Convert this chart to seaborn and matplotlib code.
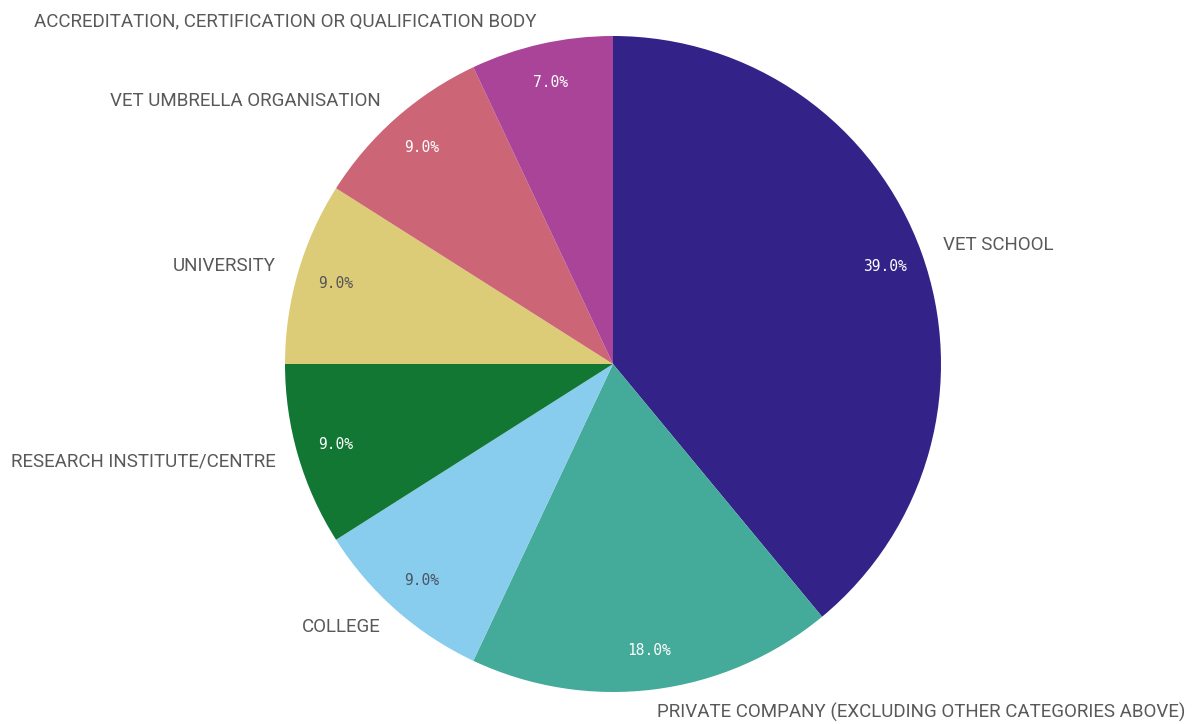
import matplotlib
matplotlib.use("Agg")
import matplotlib.pyplot as plt
import seaborn as sns

# Share of participating organisations by type (percent)
categories = [
    "VET SCHOOL",
    "PRIVATE COMPANY (EXCLUDING OTHER CATEGORIES ABOVE)",
    "COLLEGE",
    "RESEARCH INSTITUTE/CENTRE",
    "UNIVERSITY",
    "VET UMBRELLA ORGANISATION",
    "ACCREDITATION, CERTIFICATION OR QUALIFICATION BODY",
]
shares = [39.0, 18.0, 9.0, 9.0, 9.0, 9.0, 7.0]
colors = ["#332288", "#44AA99", "#88CCEE", "#117733", "#DDCC77", "#CC6677", "#AA4499"]
pct_text_colors = ["white", "white", "#4a5560", "white", "#555555", "white", "white"]

sns.set_theme(style="white")
plt.rcParams["font.family"] = ["Roboto", "DejaVu Sans"]

W, H, DPI = 1192, 724, 100
fig = plt.figure(figsize=(W / DPI, H / DPI), dpi=DPI)
ax = fig.add_axes([0, 0, 1, 1])

wedges, texts, autotexts = ax.pie(
    shares,
    labels=categories,
    colors=colors,
    startangle=90,
    counterclock=False,
    labeldistance=1.07,
    pctdistance=0.88,
    autopct="%.1f%%",
    wedgeprops=dict(linewidth=0),
    textprops=dict(fontsize=13.5, color="#595959"),
)

for t, c in zip(autotexts, pct_text_colors):
    t.set_color(c)
    t.set_fontsize(10.5)
    t.set_family(["DejaVu Sans Mono"])

# Place the pie: centre and radius in pixel terms
cx, cy, r = 613, 364, 328
ax.set_aspect("auto")
ax.set_xlim(-cx / r, (W - cx) / r)
ax.set_ylim(-(H - cy) / r, cy / r)
ax.axis("off")

fig.savefig("out.png", dpi=DPI, facecolor="white")
